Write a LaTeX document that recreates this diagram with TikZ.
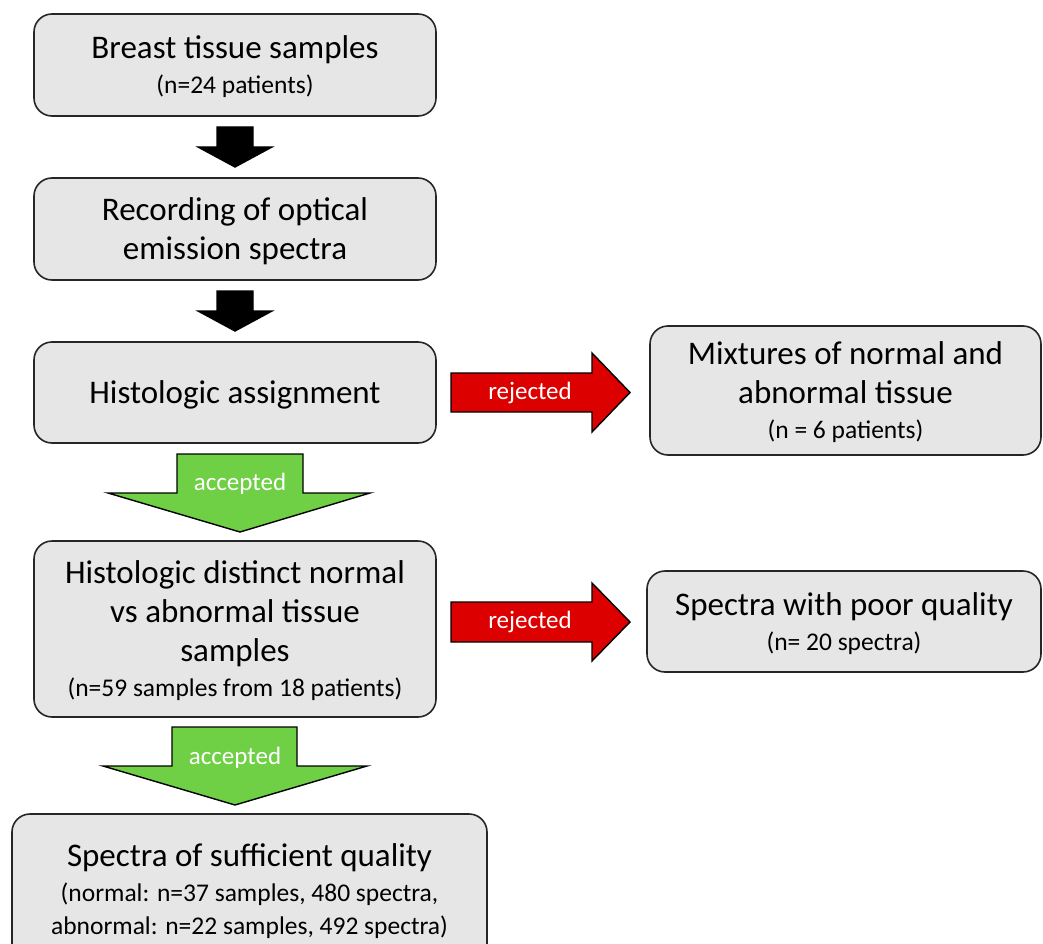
\documentclass[tikz,border=0pt]{standalone}
\usepackage{fontspec}
\setmainfont{Carlito}
\definecolor{boxgray}{RGB}{230,230,230}
\definecolor{accgreen}{RGB}{112,208,69}
\definecolor{rejred}{RGB}{221,0,0}
\newcommand{\subline}[1]{{\fontsize{25.5}{28}\selectfont #1}}
\tikzset{
  box/.style={draw=black!85, fill=boxgray, line width=1.6pt, rounded corners=18pt,
    align=center, inner sep=0pt, text depth=0pt, font=\fontsize{33}{39}\selectfont},
  blockarrow/.style={draw=black, line width=1.4pt, line join=miter},
  arrowlabel/.style={text=white, font=\fontsize{25}{30}\selectfont, inner sep=0pt}
}
\begin{document}
\begin{tikzpicture}[x=1pt,y=-1pt]
\useasboundingbox (0,0) rectangle (1043,944);

%boxes
\node[box, minimum width=402pt, minimum height=102pt] (samples) at (235,65)
  {Breast tissue samples\\[-4pt] \subline{(n=24 patients)}};
\node[box, minimum width=402pt, minimum height=102pt] (recording) at (235,229)
  {Recording of optical\\ emission spectra};
\node[box, minimum width=402pt, minimum height=101pt] (assignment) at (235,392.5)
  {Histologic assignment};
\node[box, minimum width=402pt, minimum height=176pt] (distinct) at (235,629)
  {Histologic distinct normal\\ vs abnormal tissue\\ samples\\[-4pt] \subline{(n=59 samples from 18 patients)}};
\node[box, minimum width=475pt, minimum height=150pt] (sufficient) at (249.5,889)
  {Spectra of sufficient quality\\[-4pt] \subline{(normal: n=37 samples, 480 spectra,}\\[-6pt] \subline{abnormal: n=22 samples, 492 spectra)}};
\node[box, minimum width=391pt, minimum height=129pt] (mixtures) at (845.5,390.5)
  {Mixtures of normal and\\ abnormal tissue\\[-4pt] \subline{(n = 6 patients)}};
\node[box, minimum width=394pt, minimum height=101pt] (poor) at (844,621.5)
  {Spectra with poor quality\\[-4pt] \subline{(n= 20 spectra)}};

%black arrows
\filldraw[blockarrow, fill=black] (217,127) -- (253,127) -- (253,147) -- (272,147) -- (235,167)
  -- (198,147) -- (217,147) -- cycle;
\filldraw[blockarrow, fill=black] (217,291) -- (253,291) -- (253,311) -- (272,311) -- (235,331)
  -- (198,311) -- (217,311) -- cycle;

%accepted
\filldraw[blockarrow, fill=accgreen] (177,454) -- (303,454) -- (303,493) -- (370,493) -- (240,532)
  -- (108,493) -- (177,493) -- cycle;
\node[arrowlabel] (acc1) at (240,484) {accepted};
\filldraw[blockarrow, fill=accgreen] (172,727) -- (297,727) -- (297,766) -- (367,766) -- (235,805)
  -- (103,766) -- (172,766) -- cycle;
\node[arrowlabel] (acc2) at (235,758) {accepted};

%rejected
\filldraw[blockarrow, fill=rejred] (451,373) -- (592,373) -- (592,353) -- (630,392.5) -- (592,432)
  -- (592,412) -- (451,412) -- cycle;
\node[arrowlabel] (rej1) at (530,392.5) {rejected};
\filldraw[blockarrow, fill=rejred] (451,602) -- (592,602) -- (592,583) -- (630,622) -- (592,661)
  -- (592,642) -- (451,642) -- cycle;
\node[arrowlabel] (rej2) at (530,622) {rejected};
\end{tikzpicture}
\end{document}
